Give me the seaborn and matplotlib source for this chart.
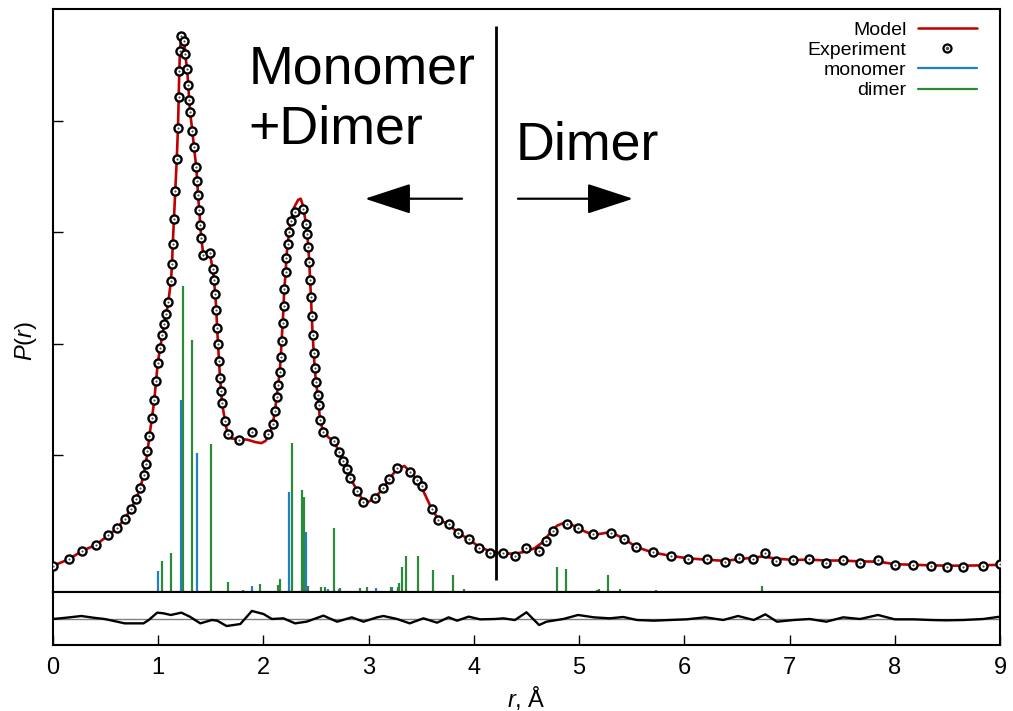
import numpy as np
import pandas as pd
import matplotlib
matplotlib.use("Agg")
import matplotlib.pyplot as plt
import seaborn as sns
from matplotlib.lines import Line2D
from matplotlib.legend_handler import HandlerTuple

# ---------------- data ----------------
exp_r = [0.00, 0.152, 0.278, 0.409, 0.520, 0.611, 0.684, 0.741, 0.792, 0.830, 0.862, 0.881,
         0.896, 0.915, 0.941, 0.963, 0.979, 0.995, 1.017, 1.039, 1.058, 1.077, 1.096, 1.121,
         1.131, 1.138, 1.150, 1.162, 1.176, 1.188, 1.195, 1.200, 1.207, 1.219, 1.248, 1.257,
         1.274, 1.286, 1.293, 1.302, 1.324, 1.340, 1.362, 1.371, 1.378, 1.390, 1.400, 1.409,
         1.428, 1.492, 1.518, 1.530, 1.542, 1.552, 1.559, 1.568, 1.578, 1.587, 1.597, 1.606,
         1.635, 1.660, 1.768, 1.894, 2.040, 2.088, 2.110, 2.126, 2.140, 2.154, 2.165, 2.172,
         2.183, 2.191, 2.198, 2.212, 2.217, 2.231, 2.243, 2.259, 2.303, 2.379, 2.404, 2.417,
         2.426, 2.436, 2.443, 2.452, 2.459, 2.468, 2.478, 2.487, 2.500, 2.516, 2.525, 2.538,
         2.569, 2.671, 2.718, 2.753, 2.797, 2.823, 2.892, 2.949, 3.060, 3.139, 3.193, 3.272,
         3.393, 3.457, 3.510, 3.599, 3.662, 3.766, 3.846, 3.954, 4.052, 4.156, 4.280, 4.391,
         4.493, 4.622, 4.683, 4.749, 4.882, 4.990, 5.135, 5.303, 5.430, 5.538, 5.702, 5.870,
         6.035, 6.213, 6.384, 6.523, 6.656, 6.767, 6.871, 7.036, 7.188, 7.347, 7.505, 7.670,
         7.844, 8.002, 8.170, 8.344, 8.494, 8.651, 8.836, 9.000]
exp_p = [0.012, 0.072, 0.146, 0.197, 0.284, 0.349, 0.430, 0.519, 0.611, 0.710, 0.824, 0.925,
         1.041, 1.173, 1.331, 1.498, 1.668, 1.824, 1.963, 2.080, 2.178, 2.271, 2.375, 2.565,
         2.713, 2.892, 3.116, 3.372, 3.653, 3.936, 4.208, 4.443, 4.628, 4.754, 4.709, 4.593,
         4.458, 4.321, 4.187, 4.076, 3.906, 3.763, 3.584, 3.458, 3.333, 3.196, 3.062, 2.948,
         2.799, 2.817, 2.674, 2.569, 2.444, 2.307, 2.146, 1.996, 1.844, 1.698, 1.576, 1.466,
         1.307, 1.188, 1.137, 1.206, 1.193, 1.278, 1.397, 1.526, 1.634, 1.746, 1.880, 2.023,
         2.182, 2.337, 2.495, 2.641, 2.773, 2.898, 3.002, 3.100, 3.178, 3.205, 3.077, 2.981,
         2.868, 2.733, 2.576, 2.415, 2.247, 2.077, 1.922, 1.782, 1.654, 1.540, 1.448, 1.316,
         1.211, 1.125, 1.032, 0.949, 0.877, 0.800, 0.683, 0.579, 0.620, 0.707, 0.788, 0.884,
         0.850, 0.779, 0.722, 0.517, 0.421, 0.385, 0.302, 0.251, 0.173, 0.128, 0.123, 0.098,
         0.173, 0.141, 0.235, 0.325, 0.388, 0.352, 0.298, 0.304, 0.253, 0.179, 0.130, 0.098,
         0.072, 0.072, 0.042, 0.083, 0.069, 0.128, 0.056, 0.063, 0.072, 0.038, 0.063, 0.038,
         0.063, 0.018, 0.018, 0.009, -0.003, 0.003, 0.009, 0.027]

model_r = [0.00, 0.15, 0.28, 0.41, 0.52, 0.61, 0.68, 0.74, 0.79, 0.83, 0.86, 0.88, 0.90, 0.915,
           0.94, 0.963, 0.98, 0.995, 1.017, 1.04, 1.058, 1.077, 1.096, 1.121, 1.131, 1.138,
           1.15, 1.162, 1.176, 1.188, 1.195, 1.20, 1.207, 1.219, 1.229, 1.248, 1.257, 1.274,
           1.286, 1.293, 1.302, 1.324, 1.340, 1.362, 1.371, 1.378, 1.390, 1.400, 1.409, 1.428,
           1.46, 1.492, 1.518, 1.530, 1.542, 1.552, 1.559, 1.568, 1.578, 1.587, 1.597, 1.606,
           1.635, 1.660, 1.70, 1.77, 1.85, 1.92, 1.98, 2.02, 2.06, 2.088, 2.110, 2.126, 2.140,
           2.154, 2.165, 2.172, 2.183, 2.191, 2.198, 2.212, 2.217, 2.231, 2.243, 2.259, 2.29,
           2.33, 2.354, 2.375, 2.395, 2.404, 2.417, 2.426, 2.436, 2.443, 2.452, 2.459, 2.468,
           2.478, 2.487, 2.500, 2.516, 2.525, 2.538, 2.569, 2.62, 2.671, 2.718, 2.753, 2.797,
           2.823, 2.892, 2.949, 2.99, 3.06, 3.139, 3.193, 3.272, 3.34, 3.393, 3.457, 3.510,
           3.56, 3.599, 3.662, 3.766, 3.846, 3.954, 4.052, 4.156, 4.28, 4.40, 4.50, 4.58,
           4.65, 4.72, 4.79, 4.866, 4.95, 5.05, 5.135, 5.22, 5.294, 5.43, 5.538, 5.702, 5.870,
           6.035, 6.213, 6.384, 6.52, 6.65, 6.75, 6.87, 7.036, 7.188, 7.347, 7.505, 7.670,
           7.844, 8.002, 8.17, 8.344, 8.494, 8.651, 8.836, 9.00]
model_p = [0.01, 0.07, 0.145, 0.20, 0.28, 0.35, 0.43, 0.52, 0.61, 0.71, 0.82, 0.925, 1.04, 1.17,
           1.33, 1.50, 1.67, 1.82, 1.96, 2.08, 2.18, 2.27, 2.375, 2.565, 2.71, 2.89,
           3.12, 3.37, 3.65, 3.94, 4.21, 4.44, 4.63, 4.75, 4.77, 4.71, 4.59, 4.46,
           4.32, 4.19, 4.08, 3.91, 3.76, 3.58, 3.46, 3.33, 3.20, 3.06, 2.95, 2.80,
           2.78, 2.80, 2.67, 2.57, 2.44, 2.31, 2.15, 2.00, 1.84, 1.70, 1.58, 1.47,
           1.31, 1.19, 1.15, 1.15, 1.14, 1.12, 1.11, 1.13, 1.19, 1.28, 1.40, 1.53, 1.634,
           1.746, 1.88, 2.023, 2.182, 2.337, 2.495, 2.641, 2.773, 2.898, 3.00, 3.10, 3.22,
           3.29, 3.30, 3.24, 3.13, 3.077, 2.981, 2.868, 2.733, 2.576, 2.415, 2.247, 2.077,
           1.922, 1.782, 1.654, 1.540, 1.448, 1.316, 1.211, 1.16, 1.125, 1.032, 0.949, 0.877,
           0.80, 0.683, 0.59, 0.58, 0.62, 0.707, 0.788, 0.88, 0.905, 0.855, 0.779, 0.70,
           0.60, 0.52, 0.43, 0.375, 0.31, 0.245, 0.18, 0.14, 0.12, 0.12, 0.14, 0.17,
           0.22, 0.30, 0.37, 0.40, 0.37, 0.32, 0.288, 0.30, 0.313, 0.253, 0.18, 0.13, 0.10,
           0.078, 0.065, 0.055, 0.07, 0.085, 0.095, 0.075, 0.063, 0.066, 0.058, 0.058, 0.05,
           0.048, 0.025, 0.02, 0.015, 0.012, 0.012, 0.015, 0.02]

monomer_r = [1.001, 1.219, 1.365, 1.888, 2.240, 2.402, 2.614, 2.715, 3.065, 3.219, 3.282]
monomer_h = [0.188, 1.719, 1.242, 0.054, 0.895, 0.540, 0.024, 0.030, 0.040, 0.045, 0.030]

dimer_r = [1.036, 1.121, 1.235, 1.324, 1.499, 1.660, 1.803, 1.967, 2.141, 2.154, 2.268,
           2.363, 2.383, 2.427, 2.544, 2.585, 2.668, 2.730, 2.918, 2.981, 3.209, 3.282,
           3.291, 3.314, 3.355, 3.472, 3.609, 3.805, 3.909, 4.790, 4.876, 5.167, 5.188,
           5.274, 5.389, 5.405, 5.731, 6.738, 7.169]
dimer_h = [0.277, 0.346, 2.739, 2.256, 1.325, 0.092, 0.018, 0.072, 0.063, 0.114, 1.331,
           0.913, 0.848, 0.054, 0.042, 0.042, 0.570, 0.038, 0.033, 0.042, 0.047, 0.042,
           0.084, 0.220, 0.322, 0.322, 0.200, 0.150, 0.024, 0.222, 0.206, 0.018, 0.030,
           0.152, 0.024, 0.012, 0.022, 0.054, 0.008]

resid_r = [0.00, 0.13, 0.27, 0.38, 0.49, 0.61, 0.68, 0.76, 0.86, 0.91, 0.99, 1.05, 1.12, 1.22,
           1.30, 1.40, 1.51, 1.56, 1.65, 1.78, 1.89, 2.00, 2.08, 2.19, 2.30, 2.41, 2.57, 2.70,
           2.84, 2.95, 3.08, 3.14, 3.27, 3.39, 3.52, 3.65, 3.76, 3.84, 3.95, 4.06, 4.20, 4.28,
           4.39, 4.50, 4.62, 4.69, 4.85, 4.99, 5.14, 5.29, 5.42, 5.55, 5.71, 5.86, 6.02, 6.20,
           6.37, 6.51, 6.66, 6.77, 6.88, 7.04, 7.19, 7.35, 7.51, 7.67, 7.84, 8.00, 8.18, 8.34,
           8.49, 8.65, 8.84, 9.00]
resid_v = [0.000, 0.012, 0.027, 0.012, 0.000, -0.024, -0.039, -0.039, -0.039, -0.009, 0.057,
           0.051, 0.036, 0.057, 0.021, -0.039, -0.009, -0.015, -0.063, -0.045, 0.072, 0.045,
           0.000, 0.006, -0.039, -0.024, 0.030, -0.024, 0.015, -0.024, 0.015, 0.027, 0.000,
           -0.039, 0.006, -0.033, 0.015, -0.015, 0.021, -0.003, 0.000, 0.006, -0.009, 0.060,
           -0.054, -0.024, 0.000, 0.036, 0.015, 0.006, 0.018, -0.009, -0.015, -0.009, -0.003,
           0.015, -0.009, 0.027, -0.009, 0.042, -0.024, -0.009, 0.000, -0.024, 0.015, 0.000,
           0.036, -0.003, -0.003, -0.009, -0.012, -0.009, 0.000, 0.021]

# ---------------- style ----------------
sns.set_theme(style="white")
plt.rcParams["font.family"] = ["Liberation Sans", "DejaVu Sans"]
plt.rcParams["mathtext.fontset"] = "custom"
plt.rcParams["mathtext.rm"] = "Liberation Sans"
plt.rcParams["mathtext.it"] = "Liberation Sans:italic"
for key in ["text.color", "axes.labelcolor", "xtick.color", "ytick.color",
            "axes.edgecolor"]:
    plt.rcParams[key] = "black"

RED = "#c00000"
BLUE = "#1f80c8"
GREEN = "#2a8a3a"

fig = plt.figure(figsize=(10.13, 7.11), dpi=100)
W, H = 1013.0, 711.0
ax = fig.add_axes([53 / W, 1 - 592 / H, 947 / W, 583 / H])
axr = fig.add_axes([53 / W, 1 - 645 / H, 947 / W, 53 / H])

YMIN, YMAX = -0.224, 5.0

# sticks
ax.vlines(monomer_r, YMIN, [YMIN + h for h in monomer_h], colors=BLUE, lw=1.6, zorder=2)
ax.vlines(dimer_r, YMIN, [YMIN + h for h in dimer_h], colors=GREEN, lw=1.6, zorder=2)

model_df = pd.DataFrame({"r": model_r, "P": model_p})
exp_df = pd.DataFrame({"r": exp_r, "P": exp_p})
sns.lineplot(data=model_df, x="r", y="P", ax=ax, color=RED, lw=1.9, estimator=None,
             sort=False, zorder=3)
sns.scatterplot(data=exp_df, x="r", y="P", ax=ax, s=34, marker="o", facecolor="white",
                edgecolor="black", linewidth=1.7, zorder=4)
sns.scatterplot(data=exp_df, x="r", y="P", ax=ax, s=2.5, marker="o", color="#505050",
                linewidth=0, zorder=5)

# divider line and annotations
ax.vlines([4.21], -0.116, 4.85, colors="black", lw=2.0, zorder=6)
ax.text(1.86, 4.333, "Monomer", fontsize=38.7, ha="left", va="baseline", zorder=7)
ax.text(1.86, 3.796, "+Dimer", fontsize=38.7, ha="left", va="baseline", zorder=7)
ax.text(4.40, 3.653, "Dimer", fontsize=38.7, ha="left", va="baseline", zorder=7)
arrow_kw = dict(arrowstyle="-|>,head_length=2.9,head_width=0.95", color="black",
                lw=1.6, shrinkA=0, shrinkB=0, mutation_scale=10)
ax.annotate("", xy=(2.965, 3.30), xytext=(3.887, 3.30), arrowprops=arrow_kw)
ax.annotate("", xy=(5.512, 3.30), xytext=(4.419, 3.30), arrowprops=arrow_kw)

ax.set_xlim(0, 9)
ax.set_ylim(YMIN, YMAX)
ax.set_xticks([])
ax.set_yticks([1, 2, 3, 4])
ax.set_yticklabels([])
ax.tick_params(axis="y", direction="in", length=7, width=1.0, left=True)
ax.set_xlabel("")
ax.set_ylabel("$P$($r$)", fontsize=17)
ax.yaxis.set_label_coords(-0.015, 0.43)
for s in ax.spines.values():
    s.set_linewidth(1.5)
    s.set_color("black")

# legend
h_model = Line2D([], [], color=RED, lw=1.8)
h_exp_o = Line2D([], [], ls="none", marker="o", markersize=5.8, markerfacecolor="white",
                 markeredgecolor="black", markeredgewidth=1.6)
h_exp_d = Line2D([], [], ls="none", marker="o", markersize=1.5, color="#505050")
h_mono = Line2D([], [], color=BLUE, lw=1.6)
h_dim = Line2D([], [], color=GREEN, lw=1.6)
ax.legend([h_model, (h_exp_o, h_exp_d), h_mono, h_dim],
          ["Model", "Experiment", "monomer", "dimer"],
          handler_map={tuple: HandlerTuple(ndivide=1, pad=0)},
          loc="upper right", bbox_to_anchor=(1.0, 1.0 + 11 / 583), frameon=False,
          markerfirst=False, fontsize=14,
          handlelength=3.0, labelspacing=0.13, handletextpad=0.6,
          borderaxespad=1.0, borderpad=0.2)

# residual panel
resid_df = pd.DataFrame({"r": resid_r, "res": resid_v})
axr.axhline(0, color="#808080", lw=1.0, zorder=1)
sns.lineplot(data=resid_df, x="r", y="res", ax=axr, color="black", lw=1.7,
             estimator=None, sort=False, zorder=2)
axr.set_xlim(0, 9)
axr.set_ylim(-0.233, 0.242)
axr.set_yticks([])
axr.set_xticks(range(0, 10))
axr.set_xticklabels([str(i) for i in range(0, 10)], fontsize=17)
axr.tick_params(axis="x", direction="in", length=7, width=1.0, pad=9, bottom=True)
axr.set_ylabel("")
axr.set_xlabel("$r$, Å", fontsize=17, labelpad=3)
for s in axr.spines.values():
    s.set_linewidth(1.5)
    s.set_color("black")

fig.savefig("out.png", dpi=100)
